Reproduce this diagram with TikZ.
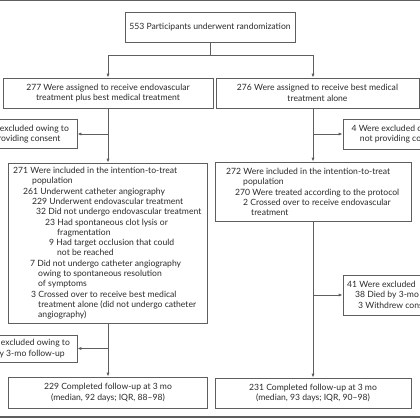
\documentclass[tikz,border=0pt]{standalone}
\usepackage{fontspec}
\setmainfont{Lato}
\usetikzlibrary{arrows.meta}
\definecolor{ln}{HTML}{5E5E5E}
\definecolor{tx}{HTML}{2B2B2B}
\newcommand\ind[1]{\hspace*{#1pt}}
\begin{document}
\begin{tikzpicture}[x=1pt,y=-1pt,
  box/.style={draw=ln, line width=0.8pt, inner sep=0pt},
  ctext/.style={align=center, font=\fontsize{8.6}{10.3}\selectfont, text=tx, inner sep=0pt},
  ltext/.style={align=left, anchor=north west, font=\fontsize{8.6}{10.3}\selectfont, text=tx, inner sep=0pt},
  conn/.style={draw=ln, line width=0.8pt},
  arr/.style={conn, -{Latex[length=4pt,width=3.2pt]}}]
\useasboundingbox (0,0) rectangle (420,420);
\clip (0,0) rectangle (420,420);
\fill[white] (0,0) rectangle (420,420);
% frame lines
\coordinate (ftl) at (0,0.7);
\coordinate (ftr) at (420,0.7);
\coordinate (fbl) at (0,417);
\coordinate (fbr) at (420,417);
\draw[ln, line width=1.4pt] (ftl) -- (ftr);
\draw[ln, line width=1.4pt] (fbl) -- (fbr);
% boxes
\node[box, ctext, minimum width=170pt, minimum height=30pt] (top) at (210,27) {553 Participants underwent randomization};
\node[box, ctext, minimum width=210pt, minimum height=30pt] (l1) at (108,93) {277 Were assigned to receive endovascular\\treatment plus best medical treatment};
\node[box, ctext, minimum width=203pt, minimum height=30pt] (r1) at (317.5,93) {276 Were assigned to receive best medical\\treatment alone};
\node[box, ctext, minimum width=115pt, minimum height=29pt] (lex1) at (19.5,134) {6 Were excluded owing to\\not providing consent};
\node[box, ctext, minimum width=116pt, minimum height=30pt] (rex1) at (401,134) {4 Were excluded owing to\\not providing consent};
\node[box, minimum width=199pt, minimum height=160pt] (litt) at (108,243) {};
\node[box, minimum width=196pt, minimum height=59pt] (ritt) at (313,191.5) {};
\node[box, ctext, minimum width=118pt, minimum height=27pt] (lex2) at (18,348.5) {42 Were excluded owing to\\death by 3-mo follow-up};
\node[box, minimum width=116pt, minimum height=40pt] (rex2) at (401,295) {};
\node[box, ctext, minimum width=199pt, minimum height=31pt] (lfin) at (108,392.5) {229 Completed follow-up at 3 mo\\(median, 92 days; IQR, 88--98)};
\node[box, ctext, minimum width=196pt, minimum height=30pt] (rfin) at (313,393) {231 Completed follow-up at 3 mo\\(median, 93 days; IQR, 90--98)};
% box texts
\node[ltext] (litttx) at (13,167) {271 Were included in the intention-to-treat\\
\ind{19}population\\
\ind{10}261 Underwent catheter angiography\\
\ind{19}229 Underwent endovascular treatment\\
\ind{23}32 Did not undergo endovascular treatment\\
\ind{32}23 Had spontaneous clot lysis or\\
\ind{44}fragmentation\\
\ind{36}9 Had target occlusion that could\\
\ind{44}not be reached\\
\ind{17}7 Did not undergo catheter angiography\\
\ind{25}owing to spontaneous resolution\\
\ind{25}of symptoms\\
\ind{18}3 Crossed over to receive best medical\\
\ind{25}treatment alone (did not undergo catheter\\
\ind{25}angiography)};
\node[ltext] (ritttx) at (226,168) {272 Were included in the intention-to-treat\\
\ind{17}population\\
\ind{9}270 Were treated according to the protocol\\
\ind{17}2 Crossed over to receive endovascular\\
\ind{25}treatment};
\node[ltext] (rex2tx) at (347,281) {41 Were excluded\\
\ind{8}38 Died by 3-mo follow-up\\
\ind{11}3 Withdrew consent};
% connectors
\coordinate (split) at (210,55);
\draw[conn] (top.south) -- (split);
\draw[arr] (split) -| (l1.north);
\draw[arr] (split) -| (ritt.north |- r1.north);
\draw[arr] (l1.south) -- (litt.north);
\draw[arr] (lex1.east -| litt.north) -- (lex1.east);
\draw[arr] (ritt.north |- r1.south) -- (ritt.north);
\draw[arr] (rex1.west -| ritt.north) -- (rex1.west);
\draw[arr] (litt.south) -- (lfin.north);
\draw[arr] (lex2.east -| litt.south) -- (lex2.east);
\draw[arr] (ritt.south) -- (rfin.north);
\draw[arr] (rex2.west -| ritt.south) -- (rex2.west);
\end{tikzpicture}
\end{document}
